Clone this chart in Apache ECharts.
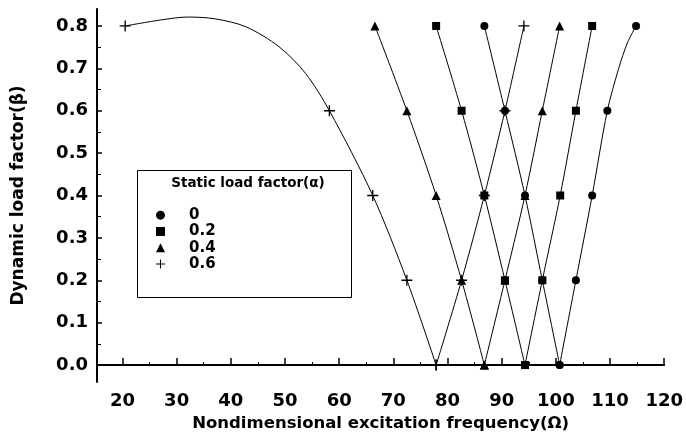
<!DOCTYPE html>
<html>
<head>
<meta charset="utf-8">
<script src="https://cdn.jsdelivr.net/npm/echarts@6/dist/echarts.min.js"></script>
<style>
  html, body { margin: 0; padding: 0; background: #fff; }
  #chart { width: 686px; height: 442px; }
</style>
</head>
<body>
<div id="chart"></div>
<script>
// dynamic load factor levels (y), shared by every branch
var beta = [0, 0.2, 0.4, 0.6, 0.8];

// excitation frequency at each beta level, left and right branch per alpha
var leftA0 = [100.7, 97.5, 94.3, 90.6, 86.8];
var rightA0 = [100.7, 103.7, 106.7, 109.5, 114.8];
var leftA02 = [94.3, 90.6, 86.8, 82.6, 77.9];
var rightA02 = [94.3, 97.5, 100.8, 103.7, 106.7];
var leftA04 = [86.8, 82.6, 77.9, 72.5, 66.6];
var rightA04 = [86.8, 90.6, 94.3, 97.5, 100.7];
var leftA06 = [77.9, 72.5, 66.2, 58.2, 20.5];
var rightA06 = [77.9, 82.6, 86.8, 90.6, 94.1];
// points read off the drawn curves between beta 0.6 and 0.8 (no marker)
var curveA06 = [[53.8, 0.688], [48.9, 0.751], [42.8, 0.798], [37, 0.817], [32, 0.821], [27, 0.814]];
var curveA0 = [[111.6, 0.70], [113.2, 0.76]];

var xMajor = [20, 30, 40, 50, 60, 70, 80, 90, 100, 110, 120];
var xMinor = [25, 35, 45, 55, 65, 75, 85, 95, 105, 115];
var yMajor = [0, 0.1, 0.2, 0.3, 0.4, 0.5, 0.6, 0.7, 0.8];
var yMinor = [0.05, 0.15, 0.25, 0.35, 0.45, 0.55, 0.65, 0.75];

var FONT = 'DejaVu Sans';
var PLUS = 'path://M0,4.4H10V5.6H0Z M4.4,0H5.6V10H4.4Z';

function pairs(xs) {
  return xs.map(function (x, i) { return [x, beta[i]]; });
}

// marked points up to beta 0.6, unmarked curve points, then the beta 0.8 point
function withCurve(xs, curve) {
  var d = pairs(xs).slice(0, 4);
  curve.forEach(function (p) { d.push({ value: p, symbol: 'none' }); });
  d.push([xs[4], beta[4]]);
  return d;
}

function branch(name, data, symbol, size) {
  return {
    name: name,
    type: 'line',
    smooth: 0.3,
    data: data,
    symbol: symbol,
    symbolSize: size,
    showAllSymbol: true,
    itemStyle: { color: '#000' },
    lineStyle: { color: '#000', width: 1 },
    emphasis: { disabled: true }
  };
}

var chart = echarts.init(document.getElementById('chart'));
var option = {
  animation: false,
  grid: { left: 97, right: 19, top: 9, bottom: 60 },
  legend: {
    data: [
      { name: '0', icon: 'circle' },
      { name: '0.2', icon: 'rect' },
      { name: '0.4', icon: 'triangle' },
      { name: '0.6', icon: PLUS }
    ],
    orient: 'vertical',
    left: 151,
    top: 202,
    itemWidth: 9,
    itemHeight: 9,
    itemGap: 0,
    selectedMode: false,
    textStyle: {
      fontFamily: FONT, fontWeight: 'bold', fontSize: 15, color: '#000',
      lineHeight: 16.3, padding: [0, 0, 0, 19]
    }
  },
  graphic: [
    {
      type: 'rect',
      shape: { x: 137.5, y: 170.5, width: 214, height: 127 },
      style: { fill: '#fff', stroke: '#000', lineWidth: 1 },
      z: -1
    },
    {
      type: 'text',
      x: 248, y: 183,
      style: {
        text: 'Static load factor(α)', fontFamily: FONT, fontWeight: 'bold',
        fontSize: 13.5, fill: '#000', align: 'center', verticalAlign: 'middle'
      }
    }
  ],
  xAxis: [
    {
      type: 'value', min: 15.3, max: 120,
      name: 'Nondimensional excitation frequency(Ω)',
      nameLocation: 'middle', nameGap: 33,
      nameTextStyle: { fontFamily: FONT, fontWeight: 'bold', fontSize: 16.5, color: '#000' },
      axisLine: { lineStyle: { color: '#000', width: 2 } },
      axisTick: { inside: true, length: 7, customValues: xMajor, lineStyle: { color: '#000', width: 1.5 } },
      axisLabel: { customValues: xMajor, margin: 10, fontFamily: FONT, fontWeight: 'bold', fontSize: 18, color: '#000' },
      splitLine: { show: false }
    },
    {
      type: 'value', min: 15.3, max: 120, position: 'bottom',
      axisLine: { show: false },
      axisTick: { inside: true, length: 3, customValues: xMinor, lineStyle: { color: '#000', width: 1 } },
      axisLabel: { show: false },
      splitLine: { show: false }
    }
  ],
  yAxis: [
    {
      type: 'value', min: -0.04, max: 0.84,
      name: 'Dynamic load factor(β)',
      nameLocation: 'middle', nameGap: 70,
      nameTextStyle: { fontFamily: FONT, fontWeight: 'bold', fontSize: 17, color: '#000' },
      axisLine: { lineStyle: { color: '#000', width: 2 } },
      axisTick: { inside: true, length: 5, customValues: yMajor, lineStyle: { color: '#000', width: 1.5 } },
      axisLabel: {
        customValues: yMajor, margin: 9, fontFamily: FONT, fontWeight: 'bold', fontSize: 18, color: '#000',
        formatter: function (v) { return v.toFixed(1); }
      },
      splitLine: { show: false }
    },
    {
      type: 'value', min: -0.04, max: 0.84, position: 'left',
      axisLine: { show: false },
      axisTick: { inside: true, length: 4, customValues: yMinor, lineStyle: { color: '#000', width: 1 } },
      axisLabel: { show: false },
      splitLine: { show: false }
    }
  ],
  series: [
    branch('0.4', pairs(leftA04), 'triangle', 9),
    branch('0.4', pairs(rightA04), 'triangle', 9),
    branch('0.6', withCurve(leftA06, curveA06), PLUS, 11),
    branch('0.6', pairs(rightA06), PLUS, 11),
    branch('0', pairs(leftA0), 'circle', 8),
    branch('0', withCurve(rightA0, curveA0), 'circle', 8),
    branch('0.2', pairs(leftA02), 'rect', 8),
    branch('0.2', pairs(rightA02), 'rect', 8)
  ]
};
option && chart.setOption(option);
</script>
</body>
</html>
